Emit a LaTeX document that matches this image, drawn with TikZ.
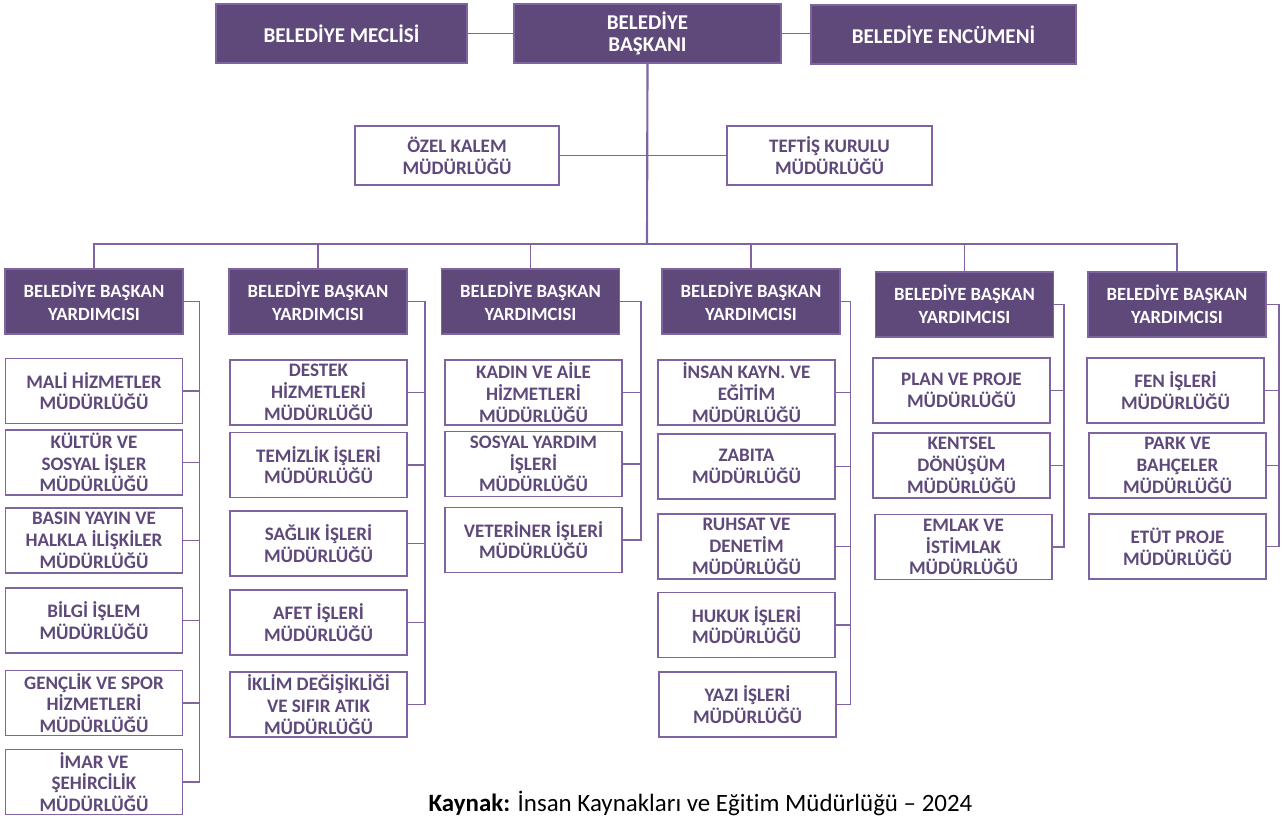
\documentclass[tikz,border=0pt]{standalone}
\usepackage{fontspec}
\setmainfont[Ligatures=NoCommon]{Carlito}
\usepackage{tikz}
\definecolor{mor}{HTML}{5F497A}
\definecolor{acikmor}{HTML}{8064A2}

\begin{document}
\begin{tikzpicture}[x=0.75pt,y=-0.75pt,
	ust/.style={draw=acikmor,line width=1.2pt,fill=mor,text=white,font=\fontsize{15.8}{16.5}\selectfont\bfseries,align=center,minimum height=44pt,inner sep=0pt},
	yard/.style={draw=acikmor,line width=1.2pt,fill=mor,text=white,font=\fontsize{14}{17}\selectfont\bfseries,align=center,minimum width=133.5pt,minimum height=48.75pt,inner sep=0pt},
	mud/.style={draw=acikmor,line width=1.2pt,fill=white,text=mor,font=\fontsize{14.3}{16.3}\selectfont\bfseries,align=center,minimum width=133pt,minimum height=48.75pt,inner sep=0pt},
	conn/.style={draw=acikmor,line width=1.3pt}]
		\useasboundingbox (0,0) rectangle (1282,816);
		\node[ust,minimum width=188pt] (meclis) at (341.5,33.5) {BELEDİYE MECLİSİ};
		\node[ust,minimum width=200pt] (baskan) at (647.5,33.5) {BELEDİYE\\BAŞKANI};
		\node[ust,minimum width=199pt] (encumen) at (943.5,34.5) {BELEDİYE ENCÜMENİ};
		\node[mud,minimum width=153pt,minimum height=44pt] (ozel) at (457,155.5) {ÖZEL KALEM\\MÜDÜRLÜĞÜ};
		\node[mud,minimum width=153.5pt,minimum height=44pt] (teftis) at (829.5,155.5) {TEFTİŞ KURULU\\MÜDÜRLÜĞÜ};
		\coordinate (bus) at (647,244);

		\node[yard] (y1) at (94,301.5) {BELEDİYE BAŞKAN\\YARDIMCISI};
		\node[yard] (y2) at (318,301.5) {BELEDİYE BAŞKAN\\YARDIMCISI};
		\node[yard] (y3) at (530.5,301.5) {BELEDİYE BAŞKAN\\YARDIMCISI};
		\node[yard] (y4) at (751,301.5) {BELEDİYE BAŞKAN\\YARDIMCISI};
		\node[yard] (y5) at (964.5,304.5) {BELEDİYE BAŞKAN\\YARDIMCISI};
		\node[yard] (y6) at (1177,304.5) {BELEDİYE BAŞKAN\\YARDIMCISI};

		\node[mud] (a1) at (94,391) {MALİ HİZMETLER\\MÜDÜRLÜĞÜ};
		\node[mud] (a2) at (94,462.5) {KÜLTÜR VE\\SOSYAL İŞLER\\MÜDÜRLÜĞÜ};
		\node[mud] (a3) at (94,540.5) {BASIN YAYIN VE\\HALKLA İLİŞKİLER\\MÜDÜRLÜĞÜ};
		\node[mud] (a4) at (94,620.5) {BİLGİ İŞLEM\\MÜDÜRLÜĞÜ};
		\node[mud] (a5) at (94,703) {GENÇLİK VE SPOR\\HİZMETLERİ\\MÜDÜRLÜĞÜ};
		\node[mud] (a6) at (94,782) {İMAR VE\\ŞEHİRCİLİK\\MÜDÜRLÜĞÜ};

		\node[mud] (b1) at (318.5,392.5) {DESTEK\\HİZMETLERİ\\MÜDÜRLÜĞÜ};
		\node[mud] (b2) at (318.5,465) {TEMİZLİK İŞLERİ\\MÜDÜRLÜĞÜ};
		\node[mud] (b3) at (318.5,543.5) {SAĞLIK İŞLERİ\\MÜDÜRLÜĞÜ};
		\node[mud] (b4) at (318.5,622.5) {AFET İŞLERİ\\MÜDÜRLÜĞÜ};
		\node[mud] (b5) at (318.5,704.5) {İKLİM DEĞİŞİKLİĞİ\\VE SIFIR ATIK\\MÜDÜRLÜĞÜ};

		\node[mud] (c1) at (533.5,392.5) {KADIN VE AİLE\\HİZMETLERİ\\MÜDÜRLÜĞÜ};
		\node[mud] (c2) at (533.5,464) {SOSYAL YARDIM\\İŞLERİ\\MÜDÜRLÜĞÜ};
		\node[mud] (c3) at (533.5,540) {VETERİNER İŞLERİ\\MÜDÜRLÜĞÜ};

		\node[mud] (d1) at (746.5,392.5) {İNSAN KAYN. VE\\EĞİTİM\\MÜDÜRLÜĞÜ};
		\node[mud] (d2) at (746.5,466.5) {ZABITA\\MÜDÜRLÜĞÜ};
		\node[mud] (d3) at (746.5,546.5) {RUHSAT VE\\DENETİM\\MÜDÜRLÜĞÜ};
		\node[mud] (d4) at (746.5,625) {HUKUK İŞLERİ\\MÜDÜRLÜĞÜ};
		\node[mud] (d5) at (747.5,704.5) {YAZI İŞLERİ\\MÜDÜRLÜĞÜ};

		\node[mud] (e1) at (961.5,390.5) {PLAN VE PROJE\\MÜDÜRLÜĞÜ};
		\node[mud] (e2) at (961.5,465.5) {KENTSEL\\DÖNÜŞÜM\\MÜDÜRLÜĞÜ};
		\node[mud] (e3) at (963.5,547) {EMLAK VE\\İSTİMLAK\\MÜDÜRLÜĞÜ};

		\node[mud] (f1) at (1175.5,390.5) {FEN İŞLERİ\\MÜDÜRLÜĞÜ};
		\node[mud] (f2) at (1177.5,465.5) {PARK VE\\BAHÇELER\\MÜDÜRLÜĞÜ};
		\node[mud] (f3) at (1177.5,546.5) {ETÜT PROJE\\MÜDÜRLÜĞÜ};

		\node (kaynak) at (700.5,803) {\fontsize{18.7}{20}\selectfont\textbf{Kaynak:} İnsan Kaynakları ve Eğitim Müdürlüğü – 2024};

		\draw[conn] (meclis.east) -- (meclis.east -| baskan.west);
		\draw[conn] (baskan.east) -- (baskan.east -| encumen.west);
		\draw[conn,line width=1.6pt] (baskan.south) -- (bus);
		\draw[conn] (ozel.east) -- (ozel.east -| bus);
		\draw[conn] (teftis.west) -- (teftis.west -| bus);
		\draw[conn,line width=1.6pt] (y1.north) |- (bus) -| (y6.north);
		\foreach \n in {y2,y3,y4,y5}
			\draw[conn] (\n.north) -- (\n.north |- bus);

		\coordinate (s1) at (199.5,301.5);
		\coordinate (s2) at (425,301.5);
		\coordinate (s3) at (641,301.5);
		\coordinate (s4) at (850.5,301.5);
		\coordinate (s5) at (1064,304.5);
		\coordinate (s6) at (1279,304.5);
		\draw[conn] (y1.east) -- (s1) |- (a6.east);
		\draw[conn] (y2.east) -- (s2) |- (b5.east);
		\draw[conn] (y3.east) -- (s3) |- (c3.east);
		\draw[conn] (y4.east) -- (s4) |- (d5.east);
		\draw[conn] (y5.east) -- (s5) |- (e3.east);
		\draw[conn] (y6.east) -- (s6) |- (f3.east);
		\foreach \n in {a1,a2,a3,a4,a5}
			\draw[conn] (\n.east) -- (\n.east -| s1);
		\foreach \n in {b1,b2,b3,b4}
			\draw[conn] (\n.east) -- (\n.east -| s2);
		\foreach \n in {c1,c2}
			\draw[conn] (\n.east) -- (\n.east -| s3);
		\foreach \n in {d1,d2,d3,d4}
			\draw[conn] (\n.east) -- (\n.east -| s4);
		\foreach \n in {e1,e2}
			\draw[conn] (\n.east) -- (\n.east -| s5);
		\foreach \n in {f1,f2}
			\draw[conn] (\n.east) -- (\n.east -| s6);
	\end{tikzpicture}
\end{document}
